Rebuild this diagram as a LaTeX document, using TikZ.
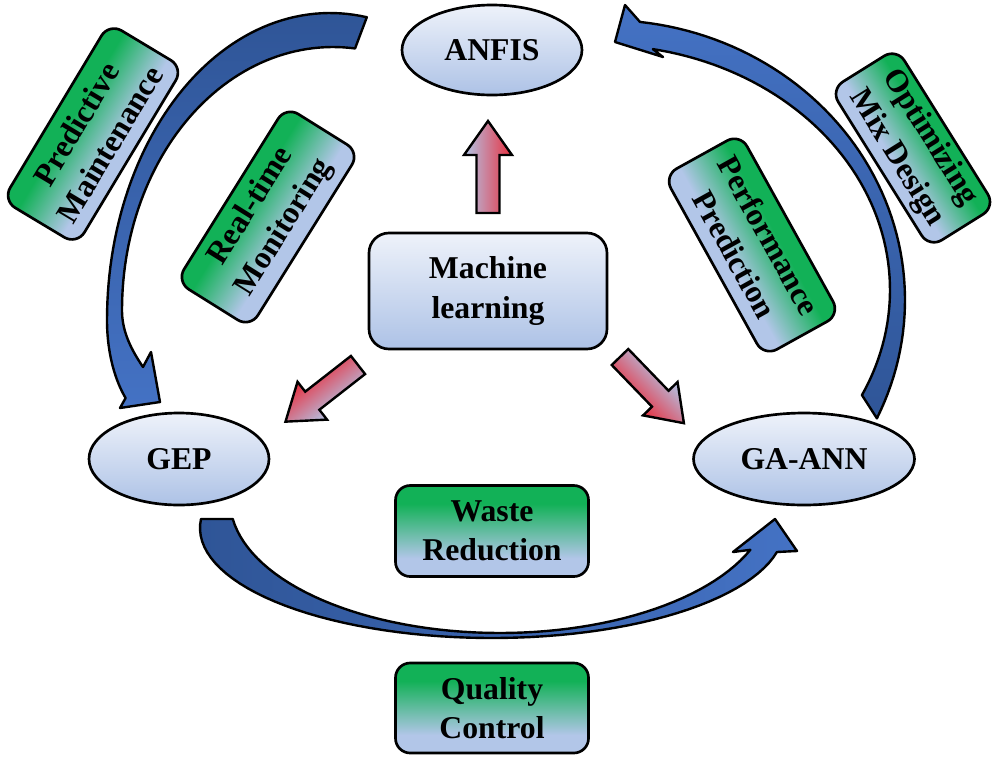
\documentclass[tikz,border=0pt]{standalone}
\usepackage{fontspec}
\setmainfont{Liberation Serif}
\usetikzlibrary{shapes.geometric}
\definecolor{gr}{HTML}{12B157}
\definecolor{lb}{HTML}{B2C6E8}
\definecolor{elTop}{HTML}{EEF2FA}
\definecolor{elBot}{HTML}{ADC2E6}
\definecolor{arDark}{HTML}{2F5597}
\definecolor{arLight}{HTML}{4472C4}
\definecolor{rd}{HTML}{E8303F}
\pgfdeclareverticalshading{greenblue}{100bp}{color(0bp)=(lb); color(35bp)=(lb); color(65bp)=(gr); color(100bp)=(gr)}
\tikzset{
  lbl/.style={font=\fontsize{23.8}{29.3}\selectfont\bfseries, align=center, text=black},
  ell/.style={ellipse, draw=black, line width=2pt, top color=elTop, bottom color=elBot, inner sep=0pt, lbl},
  mlbox/.style={rectangle, rounded corners=15pt, draw=black, line width=2pt, top color=elTop, bottom color=elBot, lbl},
  gbox/.style={rectangle, rounded corners=11pt, draw=black, line width=2pt, shading=greenblue, lbl, inner sep=2pt},
  carrow/.style={draw=black, line width=1.8pt, line join=round},
  rarrow/.style={draw=black, line width=1.8pt, line join=miter, top color=lb, bottom color=rd},
}
\newcommand\blockarrow[3]{%
  \begin{scope}[transform canvas={shift={(#1,#2)}, rotate=#3}]
    \shade[rarrow] (0,-11.5) -- (58,-11.5) -- (58,-24) -- (92,0) -- (58,24) -- (58,11.5) -- (0,11.5) -- cycle;
  \end{scope}}
\begin{document}
\begin{tikzpicture}[x=0.75pt, y=-0.75pt]
\useasboundingbox (0,0) rectangle (1000,758);

% curved arrows
\shade[carrow, top color=arDark, bottom color=arLight]
  plot[domain=279.5:180, samples=60, variable=\t] ({330+223*cos(\t)},{320+307*sin(\t)})
  .. controls (107,355) and (116,382) .. (125.6,398)
  -- (120,408) -- (160,402) -- (151,352) -- (143,367)
  .. controls (128,345) and (122,328) .. (122,310)
  -- plot[domain=180:276, samples=60, variable=\t] ({333+211*cos(\t)},{310+263*sin(\t)})
  -- cycle;

\shade[carrow, top color=arLight, bottom color=arDark]
  plot[domain=25:-83.3, samples=60, variable=\t] ({605+300*cos(\t)},{300+280*sin(\t)})
  -- (625,5) -- (615,42) -- (663,57)
  -- plot[domain=-79.5:25.4, samples=60, variable=\t] ({600+290*cos(\t)},{290+245*sin(\t)})
  -- cycle;

\shade[carrow, left color=arDark, right color=arLight]
  plot[domain=184.7:12.6, samples=60, variable=\t] ({492+292*cos(\t)},{528+110*sin(\t)})
  -- (797,551) -- (775,519) -- (733,552)
  -- plot[domain=22:171.8, samples=60, variable=\t] ({500+270*cos(\t)},{500+133*sin(\t)})
  -- cycle;

% red block arrows
\blockarrow{488}{213}{90}
\blockarrow{358}{365}{218}
\blockarrow{620}{357}{-46}

% main nodes
\node[ell, minimum width=135pt, minimum height=67.5pt] (anfis) at (492,50) {ANFIS};
\node[ell, minimum width=135pt, minimum height=69pt] (gep) at (179,459) {GEP};
\node[ell, minimum width=165.75pt, minimum height=69pt] (gaann) at (804,459) {GA-ANN};
\node[mlbox, minimum width=178.5pt, minimum height=87pt] (ml) at (488,291) {Machine\\learning};
\node[gbox, minimum width=144.75pt, minimum height=68.25pt] (waste) at (492,531) {Waste\\Reduction};
\node[gbox, minimum width=144.75pt, minimum height=67.5pt] (qc) at (492,708) {Quality\\Control};

% rotated boxes
\begin{scope}[transform canvas={shift={(93,134)}, rotate=59}]
  \node[gbox, minimum width=155pt, minimum height=65pt] (pm) at (0,0) {Predictive\\Maintenance};
\end{scope}
\begin{scope}[transform canvas={shift={(268,217)}, rotate=58}]
  \node[gbox, minimum width=155pt, minimum height=65.25pt] (rtm) at (0,0) {Real-time\\Monitoring};
\end{scope}
\begin{scope}[transform canvas={shift={(752,245)}, rotate=-61}]
  \node[gbox, minimum width=155pt, minimum height=65.25pt] (pp) at (0,0) {Performance\\Prediction};
\end{scope}
\begin{scope}[transform canvas={shift={(913,148)}, rotate=-58}]
  \node[gbox, minimum width=140pt, minimum height=58.5pt] (omd) at (0,0) {Optimizing\\Mix Design};
\end{scope}
\end{tikzpicture}
\end{document}
